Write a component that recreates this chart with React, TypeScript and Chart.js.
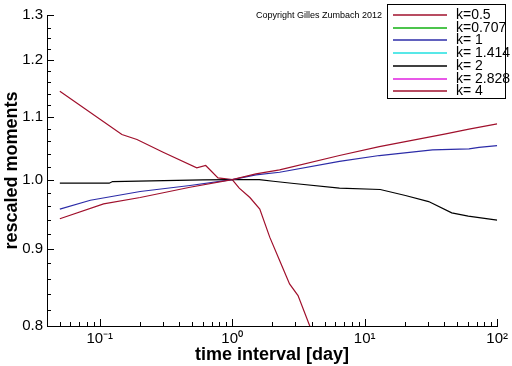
import React, { useEffect, useRef } from "react";
import { Chart, registerables } from "chart.js";

Chart.register(...registerables);

// ---- data ----
const seriesLabels = ["k=0.5", "k=0.707", "k= 1", "k= 1.414", "k= 2", "k= 2.828", "k= 4"];
const seriesColors = ["#a0102c", "#10b010", "#2c2ca8", "#20e0e0", "#000000", "#e020e0", "#a0102c"];

const k05X = [0.05, 0.107, 0.202, 0.48, 1, 1.51, 2.28, 6.45, 12.9, 40.9, 61.3, 100];
const k05Y = [0.942, 0.9636, 0.973, 0.9883, 1.0, 1.0087, 1.0149, 1.0373, 1.0515, 1.0721, 1.08, 1.0886];

const k0707X: number[] = [];
const k0707Y: number[] = [];

const k1X = [0.05, 0.085, 0.202, 0.48, 1, 1.51, 2.28, 6.45, 12.9, 32.5, 61.3, 72.9, 100];
const k1Y = [0.956, 0.969, 0.982, 0.991, 1.0, 1.0072, 1.0112, 1.028, 1.0373, 1.0463, 1.048, 1.0504, 1.053];

const k1414X: number[] = [];
const k1414Y: number[] = [];

const k2X = [0.05, 0.118, 0.125, 0.6, 1, 1.6, 2.04, 2.93, 6.45, 13.1, 20.3, 30.4, 45.4, 60.5, 100];
const k2Y = [0.9945, 0.9945, 0.997, 0.9995, 1.0, 1.0, 0.9974, 0.994, 0.987, 0.985, 0.976, 0.967, 0.9505, 0.9457, 0.94];

const k2828X: number[] = [];
const k2828Y: number[] = [];

const k4X = [0.05, 0.147, 0.191, 0.301, 0.54, 0.631, 0.781, 1, 1.13, 1.36, 1.615, 1.92, 2.28, 2.71, 3.14, 3.85, 4.5];
const k4Y = [1.144, 1.071, 1.063, 1.0425, 1.018, 1.0216, 1.0026, 1.0, 0.987, 0.973, 0.956, 0.916, 0.884, 0.853, 0.838, 0.8, 0.77];

const xTickValues = [0.1, 1, 10, 100];
const xTickLabels = ["10\u207B\u00B9", "10\u2070", "10\u00B9", "10\u00B2"];
const yTickValues = [0.8, 0.9, 1.0, 1.1, 1.2];
const yTickLabels = ["0.8", "0.9", "1.0", "1.1", "1.2", "1.3"];

const xMin = 0.04;
const xMax = 100;
const yMin = 0.8;
const yMax = 1.285;

const copyrightText = "Copyright Gilles Zumbach 2012";
const xTitle = "time interval [day]";
const yTitle = "rescaled moments";

const FONT = "'Liberation Sans', Arial, Helvetica, sans-serif";

const seriesX = [k05X, k0707X, k1X, k1414X, k2X, k2828X, k4X];
const seriesY = [k05Y, k0707Y, k1Y, k1414Y, k2Y, k2828Y, k4Y];

const decorPlugin = {
  id: "decor",
  afterDraw(chart: any) {
    const ctx = chart.ctx as CanvasRenderingContext2D;
    const xs = chart.scales.x;
    const ys = chart.scales.y;
    const area = chart.chartArea;
    ctx.save();
    ctx.strokeStyle = "#000";
    ctx.lineWidth = 1;
    // x ticks (inward)
    ctx.beginPath();
    for (let e = -2; e <= 2; e++) {
      for (let m = 1; m <= 9; m++) {
        const v = m * Math.pow(10, e);
        if (v < xMin || v > xMax + 1e-9) continue;
        const px = Math.round(xs.getPixelForValue(v)) + 0.5;
        const len = m === 1 ? 7 : 4;
        ctx.moveTo(px, area.bottom);
        ctx.lineTo(px, area.bottom - len);
      }
    }
    // y ticks (inward)
    const yMajors = [...yTickValues, yMax];
    for (const v of yMajors) {
      const py = Math.round(ys.getPixelForValue(v)) + 0.5;
      ctx.moveTo(area.left, py);
      ctx.lineTo(area.left + 7, py);
    }
    for (let i = 1; i < 25; i++) {
      const v = 0.8 + i * 0.02;
      if (Math.abs(v * 10 - Math.round(v * 10)) < 1e-6) continue;
      if (v > yMax - 0.01) continue;
      const py = Math.round(ys.getPixelForValue(v)) + 0.5;
      ctx.moveTo(area.left, py);
      ctx.lineTo(area.left + 4, py);
    }
    ctx.stroke();

    // copyright
    ctx.fillStyle = "#000";
    ctx.font = `9px ${FONT}`;
    ctx.textAlign = "left";
    ctx.textBaseline = "middle";
    ctx.fillText(copyrightText, 256, 16);

    // legend box
    const bx = 387.5, by = 4.5, bw = 118, bh = 94;
    ctx.fillStyle = "#fff";
    ctx.fillRect(bx, by, bw, bh);
    ctx.strokeStyle = "#000";
    ctx.lineWidth = 1;
    ctx.strokeRect(bx, by, bw, bh);
    ctx.font = `14px ${FONT}`;
    seriesLabels.forEach((label, i) => {
      const y = Math.round(15 + i * 12.7);
      ctx.strokeStyle = seriesColors[i];
      ctx.lineWidth = 1.6;
      ctx.beginPath();
      ctx.moveTo(393, y);
      ctx.lineTo(447, y);
      ctx.stroke();
      ctx.fillStyle = "#000";
      ctx.fillText(label, 456, y + 0.5);
    });
    ctx.restore();
  },
};

export default function App() {
  const ref = useRef<HTMLCanvasElement | null>(null);
  useEffect(() => {
    if (!ref.current) return;
    const datasets = seriesLabels.map((label, i) => ({
      label,
      data: seriesX[i].map((x, j) => ({ x, y: seriesY[i][j] })),
      borderColor: seriesColors[i],
      backgroundColor: seriesColors[i],
      borderWidth: 1.2,
      pointRadius: 0,
      tension: 0,
      fill: false,
    }));
    const chart = new Chart(ref.current, {
      type: "line",
      data: { datasets },
      plugins: [decorPlugin],
      options: {
        animation: false,
        responsive: false,
        maintainAspectRatio: false,
        layout: { padding: { left: 0, right: 14, top: 15, bottom: 0 } },
        plugins: { legend: { display: false }, tooltip: { enabled: false } },
        scales: {
          x: {
            type: "logarithmic",
            min: xMin,
            max: xMax,
            grid: { display: false, drawTicks: false },
            border: { display: true, color: "#000", width: 1 },
            afterBuildTicks: (s: any) => {
              s.ticks = xTickValues.map((v) => ({ value: v }));
            },
            afterFit: (s: any) => {
              s.height = 40;
            },
            ticks: {
              autoSkip: false,
              maxRotation: 0,
              padding: 4,
              color: "#000",
              font: { family: FONT, size: 15 },
              callback: (_v: any, i: number) => xTickLabels[i],
            },
            title: {
              display: true,
              text: xTitle,
              color: "#000",
              font: { family: FONT, size: 18, weight: "bold" },
              padding: { top: 0, bottom: 0 },
            },
          },
          y: {
            type: "logarithmic",
            min: yMin,
            max: yMax,
            grid: { display: false, drawTicks: false },
            border: { display: true, color: "#000", width: 1 },
            afterBuildTicks: (s: any) => {
              s.ticks = [...yTickValues, yMax].map((v) => ({ value: v }));
            },
            afterFit: (s: any) => {
              s.width = 47;
            },
            ticks: {
              autoSkip: false,
              padding: 4,
              color: "#000",
              font: { family: FONT, size: 15 },
              callback: (_v: any, i: number) => yTickLabels[i],
            },
            title: {
              display: true,
              text: yTitle,
              color: "#000",
              font: { family: FONT, size: 18, weight: "bold" },
              padding: { top: 1, bottom: 0 },
            },
          },
        },
      } as any,
    });
    return () => chart.destroy();
  }, []);
  return (
    <div style={{ position: "fixed", left: 0, top: 0, width: 512, height: 366, background: "#fff" }}>
      <canvas ref={ref} width={512} height={366} />
    </div>
  );
}
